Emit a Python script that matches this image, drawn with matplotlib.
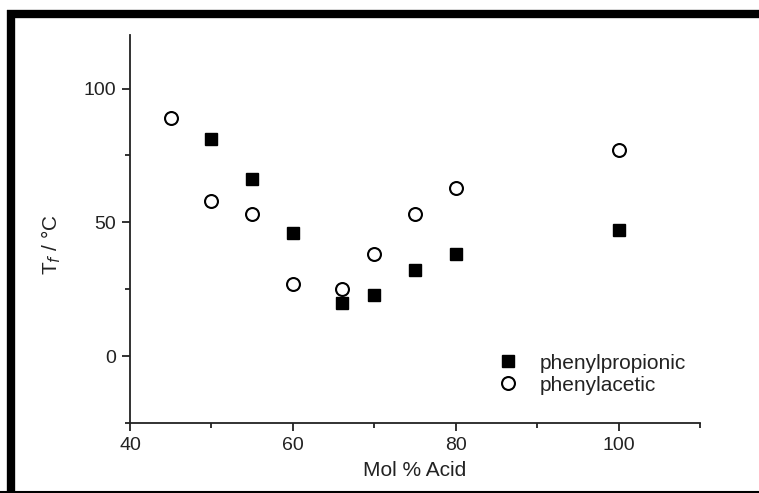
import numpy as np
import matplotlib.pyplot as plt
from matplotlib.lines import Line2D
from matplotlib.ticker import MultipleLocator

plt.rcParams['font.family'] = ['Liberation Sans', 'DejaVu Sans']

# data
x_prop = [50, 55, 60, 66, 70, 75, 80, 100]
y_prop = [81, 66, 46, 20, 23, 32, 38, 47]
x_acet = [45, 50, 55, 60, 66, 70, 75, 80, 100]
y_acet = [89, 58, 53, 27, 25, 38, 53, 63, 77]

fig = plt.figure(figsize=(7.59, 4.93), dpi=100)
ax = fig.add_axes([130/759, 1-423/493, 570/759, 388/493])

ax.plot(x_prop, y_prop, 's', color='black', ms=8.5, label='phenylpropionic', linestyle='none')
ax.plot(x_acet, y_acet, 'o', mfc='white', mec='black', mew=1.5, ms=9.3,
        label='phenylacetic', linestyle='none')

ax.set_xlim(40, 110)
ax.set_ylim(-25, 120)
ax.xaxis.set_major_locator(MultipleLocator(20))
ax.xaxis.set_minor_locator(MultipleLocator(10))
ax.yaxis.set_minor_locator(MultipleLocator(25))
ax.set_yticks([0, 50, 100])

for s in ['top', 'right']:
    ax.spines[s].set_visible(False)
for s in ['left', 'bottom']:
    ax.spines[s].set_linewidth(1.3)
    ax.spines[s].set_color('#222222')
ax.tick_params(which='major', direction='out', length=6, width=1.3, color='#222222',
               labelsize=14, labelcolor='#222222', pad=4)
ax.tick_params(which='minor', direction='out', length=3.5, width=1.3, color='#222222')

ax.set_xlabel('Mol % Acid', fontsize=15, color='#222222')
ax.xaxis.set_label_coords(0.5, -0.098)
ax.set_ylabel('T$_f$ / °C', fontsize=15, color='#222222')
ax.yaxis.set_label_coords(-0.118, 0.46)

leg = ax.legend(loc='center left', bbox_to_anchor=(0.6456, 0.126), frameon=False,
                fontsize=15, handlelength=1.0, handletextpad=1.0, borderpad=0,
                borderaxespad=0, labelspacing=0.15, labelcolor='#222222')

# thick frame round the figure
fig.add_artist(Line2D([7/759, 1], [1-14/493, 1-14/493], color='black', lw=6,
                      transform=fig.transFigure, solid_capstyle='butt'))
fig.add_artist(Line2D([11/759, 11/759], [1-10/493, 0], color='black', lw=6,
                      transform=fig.transFigure, solid_capstyle='butt'))
fig.add_artist(Line2D([0, 1], [1-491.5/493, 1-491.5/493], color='black', lw=1.5,
                      transform=fig.transFigure, solid_capstyle='butt'))

fig.savefig('out.png', dpi=100)
